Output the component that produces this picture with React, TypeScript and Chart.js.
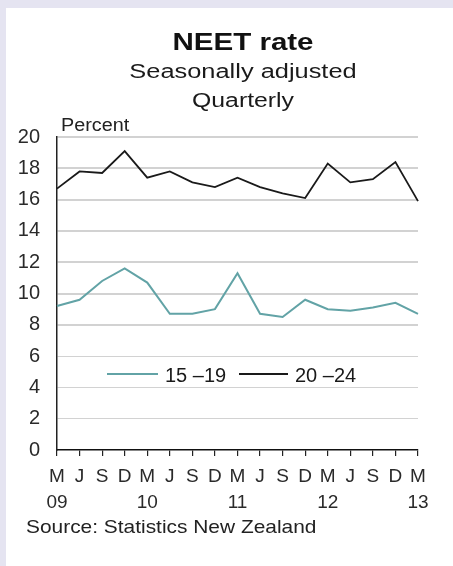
import React, { useEffect, useRef } from "react";
import { Chart, registerables } from "chart.js";

Chart.register(...registerables);

// Quarter markers and years (March quarter carries the year)
const quarterLetters = ["M", "J", "S", "D"];
const years = ["09", "10", "11", "12", "13"];

// NEET rate by age group, % (Mar 2009 – Mar 2013)
const age15to19 = [9.2, 9.6, 10.8, 11.6, 10.7, 8.7, 8.7, 9.0, 11.3, 8.7, 8.5, 9.6, 9.0, 8.9, 9.1, 9.4, 8.7];
const age20to24 = [16.7, 17.8, 17.7, 19.1, 17.4, 17.8, 17.1, 16.8, 17.4, 16.8, 16.4, 16.1, 18.3, 17.1, 17.3, 18.4, 15.9];

const seriesNames = ["15 –19", "20 –24"];
const yTicks = [0, 2, 4, 6, 8, 10, 12, 14, 16, 18, 20];

const titleText = "NEET rate";
const subtitleText = "Seasonally adjusted";
const frequencyText = "Quarterly";
const unitText = "Percent";
const sourceText = "Source: Statistics New Zealand";

const FONT = "'Liberation Sans', Arial, sans-serif";
const W = 453;
const H = 566;

const xLabels: (string | string[])[] = age15to19.map((_, i) =>
  i % 4 === 0 ? [quarterLetters[i % 4], years[i / 4]] : quarterLetters[i % 4]
);

// text drawn with a horizontal stretch factor
function wideText(ctx: any, text: string, x: number, y: number, align: string, sx: number) {
  ctx.save();
  ctx.translate(x, y);
  ctx.scale(sx, 1);
  ctx.textAlign = align;
  ctx.fillText(text, 0, 0);
  ctx.restore();
}

const decorPlugin = {
  id: "decor",
  beforeDraw(chart: any) {
    const ctx = chart.ctx;
    ctx.save();
    ctx.fillStyle = "#e5e4f1";
    ctx.fillRect(0, 0, W, H);
    ctx.fillStyle = "#ffffff";
    ctx.fillRect(6, 8, W - 6, H - 8);
    ctx.restore();
  },
  afterDraw(chart: any) {
    const ctx = chart.ctx;
    const area = chart.chartArea;
    ctx.save();
    ctx.fillStyle = "#111";
    ctx.textBaseline = "alphabetic";
    const cx = 243;
    ctx.font = `bold 24px ${FONT}`;
    wideText(ctx, titleText, cx, 50, "center", 1.23);
    ctx.fillStyle = "#1a1a1a";
    ctx.font = `20px ${FONT}`;
    wideText(ctx, subtitleText, cx, 78, "center", 1.27);
    wideText(ctx, frequencyText, cx, 107, "center", 1.24);

    ctx.fillStyle = "#222";
    ctx.font = `18px ${FONT}`;
    wideText(ctx, unitText, area.left + 4, 131, "left", 1.1);

    ctx.font = `19px ${FONT}`;
    wideText(ctx, sourceText, 26, 533, "left", 1.1);

    // legend inside the plot area
    const legendY = 374;
    const items = [
      { x1: 107, x2: 158, tx: 165 },
      { x1: 239, x2: 288, tx: 295 },
    ];
    ctx.font = `20px ${FONT}`;
    items.forEach((it, i) => {
      const ds = chart.data.datasets[i];
      ctx.strokeStyle = ds.borderColor;
      ctx.lineWidth = 2;
      ctx.beginPath();
      ctx.moveTo(it.x1, legendY);
      ctx.lineTo(it.x2, legendY);
      ctx.stroke();
      ctx.fillStyle = "#1a1a1a";
      wideText(ctx, ds.label, it.tx, legendY + 8, "left", 1.0);
    });
    ctx.restore();
  },
};

export default function App() {
  const ref = useRef<HTMLCanvasElement | null>(null);

  useEffect(() => {
    if (!ref.current) return;
    const chart = new Chart(ref.current, {
      type: "line",
      data: {
        labels: xLabels,
        datasets: [
          {
            label: seriesNames[0],
            data: age15to19,
            borderColor: "#62a3a6",
            borderWidth: 2,
            pointRadius: 0,
            tension: 0,
          },
          {
            label: seriesNames[1],
            data: age20to24,
            borderColor: "#1a1a1a",
            borderWidth: 1.8,
            pointRadius: 0,
            tension: 0,
          },
        ],
      },
      options: {
        responsive: false,
        animation: false,
        layout: { padding: { left: 0, top: 137, right: 35, bottom: 0 } },
        plugins: {
          legend: { display: false },
          tooltip: { enabled: false },
          title: { display: false },
        },
        scales: {
          x: {
            offset: false,
            afterFit: (s: any) => {
              s.height = H - 450;
            },
            border: { display: true, color: "#111", width: 1.5 },
            grid: {
              drawOnChartArea: false,
              drawTicks: true,
              tickLength: 6,
              color: "#222",
              lineWidth: 1.2,
            },
            ticks: {
              autoSkip: false,
              maxRotation: 0,
              padding: 7,
              color: "#2a2a2a",
              font: { family: FONT, size: 19, lineHeight: 1.4 },
            },
          },
          y: {
            min: 0,
            max: 20,
            afterFit: (s: any) => {
              s.width = 57;
            },
            afterBuildTicks: (s: any) => {
              s.ticks = yTicks.map((v) => ({ value: v }));
            },
            border: { display: true, color: "#222", width: 1.5 },
            grid: {
              drawTicks: false,
              color: (c: any) => (c.tick && c.tick.value === 0 ? "rgba(0,0,0,0)" : "#d2d2d2"),
              lineWidth: (c: any) => (c.tick && c.tick.value <= 6 ? 1 : 2),
            },
            ticks: {
              padding: 17,
              color: "#2a2a2a",
              font: { family: FONT, size: 20 },
            },
          },
        },
      },
      plugins: [decorPlugin],
    });
    return () => chart.destroy();
  }, []);

  return (
    <div style={{ position: "fixed", left: 0, top: 0, width: W, height: H }}>
      <canvas ref={ref} width={W} height={H} style={{ width: W, height: H, display: "block" }} />
    </div>
  );
}
